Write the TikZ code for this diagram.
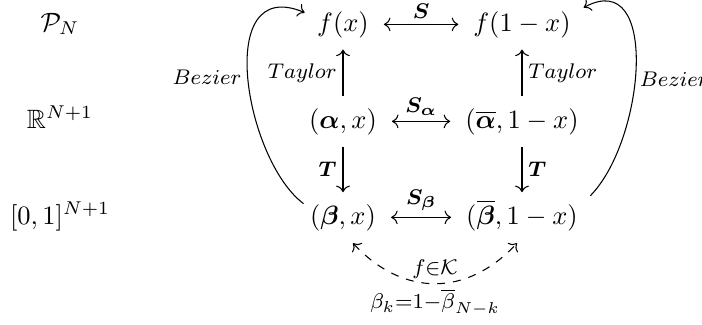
\documentclass[tikz,border=0pt]{standalone}
\usepackage{amsmath,amssymb}
\usetikzlibrary{arrows.meta}
\begin{document}
\begin{tikzpicture}[x=0.3774pt,y=-0.3774pt,
  >={Computer Modern Rightarrow},
  every node/.style={inner sep=0pt},
  mathnode/.style={anchor=base,font=\fontsize{10}{12}\selectfont},
  lab/.style={font=\fontsize{8.5}{10}\selectfont,inner sep=2.2pt},
  harrow/.style={<->,shorten <=5.5pt,shorten >=5.5pt},
  varrow/.style={->,shorten <=4.3pt,shorten >=4.3pt},
  bez/.style={->},
  dsh/.style={<->,dashed}]
\useasboundingbox (0,0) rectangle (702,324);
% left column
\node[mathnode] (PN) at (60,31) {$\mathcal{P}_N$};
\node[mathnode] (RN) at (60,128) {$\mathbb{R}^{N+1}$};
\node[mathnode] (IN) at (60,224) {$[0,1]^{N+1}$};
% diagram
\node[mathnode] (f1) at (343,31) {$f(x)$};
\node[mathnode] (f2) at (522,31) {$f(1-x)$};
\node[mathnode] (a1) at (343,128) {$(\boldsymbol{\alpha},x)$};
\node[mathnode] (a2) at (522,128) {$(\overline{\boldsymbol{\alpha}},1-x)$};
\node[mathnode] (b1) at (343,224) {$(\boldsymbol{\beta},x)$};
\node[mathnode] (b2) at (522,224) {$(\overline{\boldsymbol{\beta}},1-x)$};
% horizontal
\draw[harrow] (f1.east) -- (f1.east -| f2.west) node[midway,above,lab]{$\boldsymbol{S}$};
\draw[harrow] (a1.east) -- (a1.east -| a2.west) node[midway,above,lab]{$\boldsymbol{S_\alpha}$};
\draw[harrow] (b1.east) -- (b1.east -| b2.west) node[midway,above,lab]{$\boldsymbol{S_\beta}$};
% vertical
\draw[varrow] (a1.north) -- (f1.south) node[midway,left,lab]{$Taylor$};
\draw[varrow] (a2.north) -- (f2.south) node[midway,right,lab]{$Taylor$};
\draw[varrow] (a1.south) -- (b1.north) node[midway,left,lab]{$\boldsymbol{T}$};
\draw[varrow] (a2.south) -- (a2.south |- b1.north) node[midway,right,lab]{$\boldsymbol{T}$};
% Bezier curves
\coordinate (cL1) at (245,160);
\coordinate (cL2) at (213,-26);
\coordinate (cR1) at (645,140);
\coordinate (cR2) at (660,-34);
\draw[bez] ([shift={(-6,0)}]b1.north west) .. controls (cL1) and (cL2) .. ([shift={(-12,2)}]f1.north west)
  node[pos=0.5,left,lab]{$Bezier$};
\draw[bez] ([shift={(12,-4)}]b2.north east) .. controls (cR1) and (cR2) .. ([shift={(12.5,-3)}]f2.north east)
  node[pos=0.45,right,lab,inner sep=1.5pt]{$Bezier$};
% dashed
\coordinate (cD1) at (403,297);
\coordinate (cD2) at (467,297);
\draw[dsh] ([shift={(10,12)}]b1.south) .. controls (cD1) and (cD2) .. ([shift={(-5,12)}]b2.south)
  node[pos=0.5,above,lab,inner sep=1.8pt]{$f{\in}\mathcal{K}$}
  node[pos=0.5,below,lab,inner sep=1.8pt]{$\beta_k{=}1{-}\overline{\beta}_{N-k}$};
\end{tikzpicture}
\end{document}
